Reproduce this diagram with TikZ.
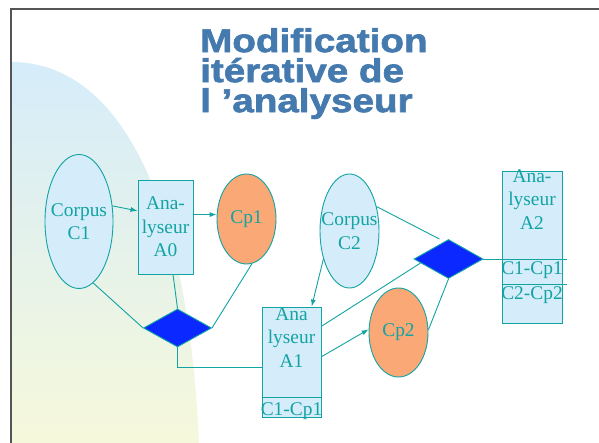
\documentclass[tikz,border=0pt]{standalone}
\usepackage{fontspec}
\setmainfont{Liberation Serif}
\newfontfamily\titlefont[FakeStretch=1.17,FakeBold=2]{Liberation Sans Bold}
\usepackage{tikz}
\usetikzlibrary{arrows.meta,calc,shapes.geometric}
\definecolor{slidegray}{RGB}{85,85,85}
\definecolor{titleblue}{RGB}{68,122,174}
\definecolor{tealline}{RGB}{18,163,163}
\definecolor{paleblue}{RGB}{213,236,250}
\definecolor{paleyellow}{RGB}{251,250,214}
\definecolor{cporange}{RGB}{249,168,118}
\definecolor{mergeblue}{RGB}{10,40,255}
\newcommand{\boxfont}{\fontsize{19.4}{23.5}\selectfont}

\begin{document}
\begin{tikzpicture}[x=1pt, y=-1pt, >={Latex[length=7pt,width=5pt]},
    corpus/.style={ellipse, draw=tealline, fill=paleblue, line width=0.9pt, inner sep=0pt},
    cp/.style={ellipse, draw=tealline, fill=cporange, line width=0.9pt, inner sep=0pt, text=tealline, font=\boxfont},
    anabox/.style={rectangle, draw=tealline, fill=paleblue, line width=0.9pt, inner sep=0pt, text=tealline, font=\boxfont, align=center},
    merge/.style={diamond, draw=tealline, fill=mergeblue, line width=0.9pt, inner sep=0pt},
    lbl/.style={text=tealline, font=\boxfont, align=center, inner sep=0pt},
    link/.style={tealline, line width=0.9pt}]
    \useasboundingbox (0,0) rectangle (599,443);
    % slide background
    \begin{scope}
      \clip (11,9) rectangle (599,443);
      \shade[top color=paleblue, bottom color=paleyellow] (11,62) .. controls (135,62) and (200,240) .. (200,502) -- (11,502) -- cycle;
    \end{scope}
    \draw[slidegray, line width=1.3pt] (11,443) -- (11,9) -- (599,9);
    % title
    \node[titleblue, font=\titlefont\fontsize{33}{30}\selectfont, align=left, anchor=north west, inner sep=0pt] (title) at (200,28) {Modification\\itérative de\\l ’analyseur};

    % corpora, analysers, results
    \node[corpus, minimum width=68pt, minimum height=134pt, label={[lbl]center:{Corpus\\C1}}] (c1) at (79,221.5) {};
    \node[anabox, minimum width=55pt, minimum height=94pt] (a0) at (165.5,227) {Ana-\\lyseur\\A0};
    \node[cp, minimum width=59pt, minimum height=90pt] (cp1) at (246.5,219) {Cp1};
    \node[corpus, minimum width=59pt, minimum height=114pt, label={[lbl]center:{Corpus\\C2}}] (c2) at (349.5,231) {};
    \node[merge, minimum width=68pt, minimum height=38pt] (d1) at (177.5,328) {};
    \node[merge, minimum width=69pt, minimum height=39pt] (d2) at (448.5,259) {};

    \node[anabox, minimum width=59pt, minimum height=110pt] (a1) at (291.5,362) {};
    \node[lbl, anchor=north] (a1name) at (291.5,307) {Ana\\lyseur\\A1};
    \draw[link] ($(a1.south west)+(0,-20)$) -- ($(a1.south east)+(0,-20)$);
    \node[lbl, anchor=base] (a1pair) at ($(a1.south)+(0,-2)$) {C1-Cp1};
    \node[cp, minimum width=59pt, minimum height=89pt] (cp2) at (398.5,332.5) {Cp2};

    \node[anabox, minimum width=60pt, minimum height=152pt] (a2) at (532,247) {};
    \node[lbl, anchor=north] (a2name) at (532,169) {Ana-\\lyseur\\A2};
    \node[lbl, anchor=base] (a2pair1) at (532,275) {C1-Cp1};
    \node[lbl, anchor=base] (a2pair2) at (532,299) {C2-Cp2};
    \coordinate (a2cut) at (567,259);
    \coordinate (a2cutb) at (567,284);

    % connectors
    \draw[link, ->] (c1.25) -- (a0.150);
    \draw[link, ->] (a0.24) -- (a0.24 -| cp1.west);
    \draw[link] (c1.-77) -- (d1.west);
    \draw[link] (a0.-81) -- (d1.north);
    \draw[link] (cp1.-83) -- (d1.east);
    \draw[link] (d1.south) |- (a1.190);
    \draw[link, ->] (c2.227) -- (a1.70);
    \draw[link] (a1.50) -- ($(d2.west)!0.2!(d2.south)$);
    \draw[link, ->] (a1.10) -- (cp2.174);
    \draw[link] (cp2.5) -- (d2.south);
    \draw[link] (c2.42) -- ($(d2.north)+(-9,0)$);
    \draw[link] (d2.east) -- (a2cut);
    \draw[link] (a2.west |- a2cutb) -- (a2cutb);
\end{tikzpicture}
\end{document}
